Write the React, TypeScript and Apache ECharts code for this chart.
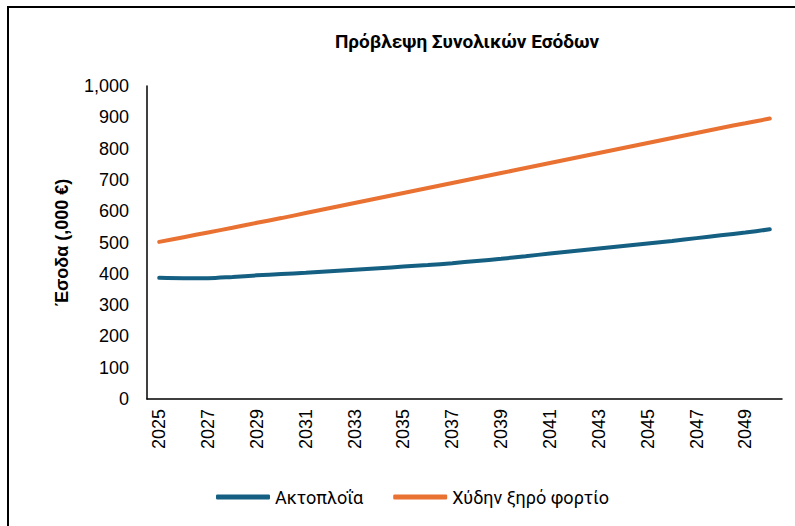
import React, { useEffect, useRef } from "react";
import * as echarts from "echarts";

const years = [
  "2025", "2026", "2027", "2028", "2029", "2030", "2031", "2032", "2033",
  "2034", "2035", "2036", "2037", "2038", "2039", "2040", "2041", "2042",
  "2043", "2044", "2045", "2046", "2047", "2048", "2049", "2050",
];

const coastal = [
  387, 386, 386, 390, 395, 399, 403, 408, 413, 418, 423, 428, 434, 441, 448,
  456, 465, 473, 481, 489, 497, 505, 514, 523, 532, 542,
];

const dryBulk = [
  502, 517, 532, 547, 563, 578, 594, 610, 626, 642, 658, 674, 690, 706, 722,
  738, 754, 770, 786, 802, 818, 834, 850, 866, 881, 896,
];

const seriesNames = ["Ακτοπλοΐα", "Χύδην ξηρό φορτίο"];
const title = "Πρόβλεψη Συνολικών Εσόδων";
const yAxisName = "Έσοδα (,000 €)";

const narrow = "'Roboto', sans-serif";
const sans = "'Liberation Sans', Arial, sans-serif";

export default function App() {
  const ref = useRef<HTMLDivElement>(null);

  useEffect(() => {
    if (!ref.current) return;
    const chart = echarts.init(ref.current, null, { renderer: "svg" });
    chart.setOption({
      animation: false,
      title: {
        text: title,
        left: 462,
        top: 27,
        textAlign: "center",
        textStyle: {
          fontFamily: narrow,
          fontWeight: "bold",
          fontSize: 19,
          color: "#000",
        },
      },
      legend: {
        top: 483,
        left: 211,
        itemGap: 30,
        itemWidth: 54,
        itemHeight: 5,
        icon: "roundRect",
        textStyle: { fontFamily: narrow, fontSize: 18, color: "#000" },
        data: seriesNames,
      },
      grid: { left: 147, right: 13, top: 86, bottom: 127, containLabel: false },
      xAxis: {
        type: "category",
        data: years,
        boundaryGap: true,
        axisLine: { lineStyle: { color: "#000", width: 1.5 } },
        axisTick: { show: false },
        axisLabel: {
          interval: 1,
          rotate: 90,
          fontFamily: sans,
          fontSize: 18,
          color: "#000",
          margin: 10,
        },
      },
      yAxis: {
        type: "value",
        min: 0,
        max: 1000,
        interval: 100,
        name: yAxisName,
        nameLocation: "middle",
        nameGap: 76,
        nameTextStyle: {
          fontFamily: sans,
          fontWeight: "bold",
          fontSize: 18,
          color: "#000",
        },
        axisLine: { show: true, lineStyle: { color: "#000", width: 1.5 } },
        axisTick: { show: false },
        splitLine: { show: false },
        axisLabel: {
          fontFamily: sans,
          fontSize: 18,
          color: "#000",
          margin: 18,
          formatter: (v: number) => v.toLocaleString("en-US"),
        },
      },
      series: [
        {
          name: seriesNames[0],
          type: "line",
          data: coastal,
          smooth: 0.3,
          symbol: "none",
          color: "#156082",
          lineStyle: { width: 4, color: "#156082", cap: "round" },
        },
        {
          name: seriesNames[1],
          type: "line",
          data: dryBulk,
          smooth: 0.3,
          symbol: "none",
          color: "#E97132",
          lineStyle: { width: 4, color: "#E97132", cap: "round" },
        },
      ],
    });
    return () => chart.dispose();
  }, []);

  return (
    <>
      <div
        style={{
          position: "fixed",
          left: 7,
          top: 6,
          width: 810,
          height: 540,
          border: "2px solid #000",
          boxSizing: "border-box",
          background: "#fff",
        }}
      />
      <div
        ref={ref}
        style={{ position: "fixed", left: 0, top: 0, width: 795, height: 526 }}
      />
    </>
  );
}
